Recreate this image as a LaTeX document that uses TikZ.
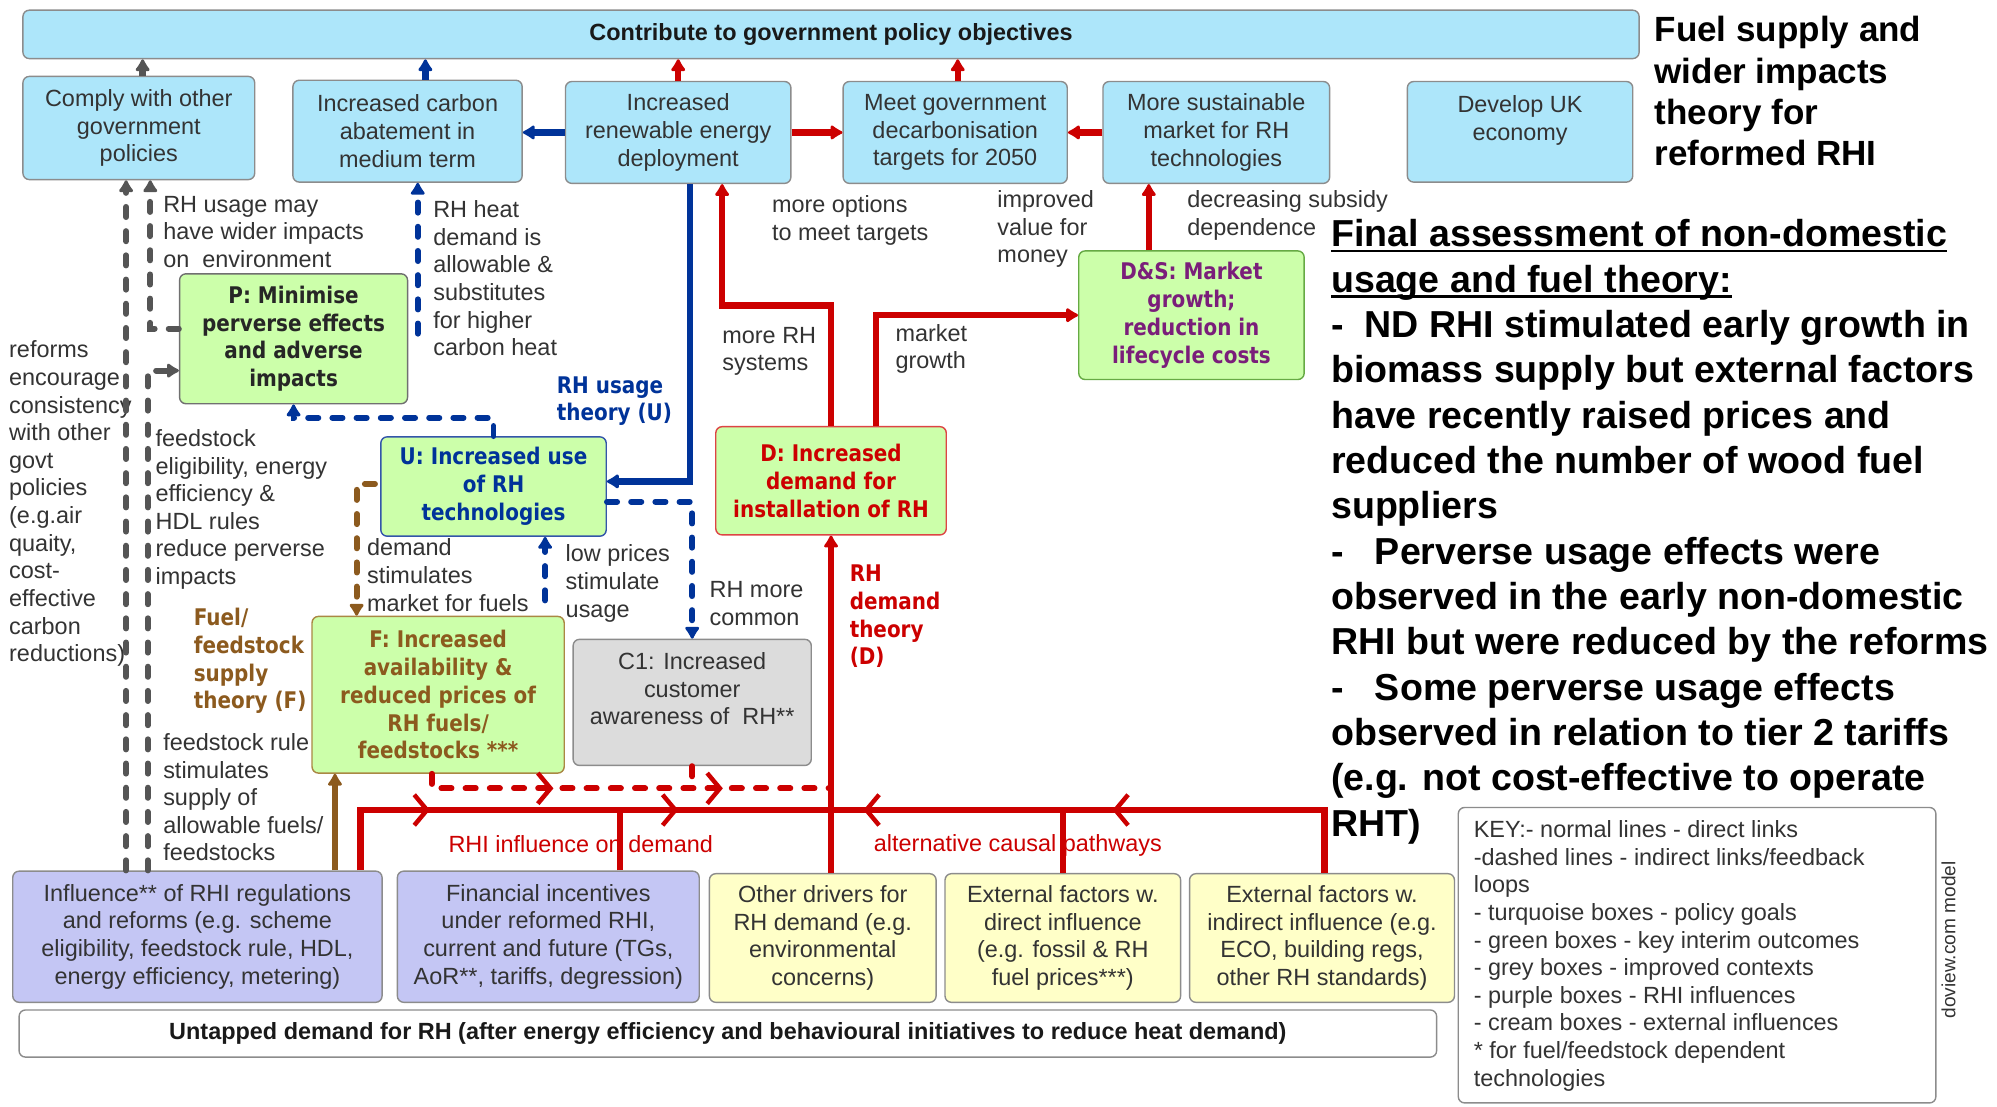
\documentclass[tikz,border=0pt]{standalone}
\usepackage{fontspec}
\setmainfont{Liberation Sans}
\newfontfamily\gbfont{DejaVu Sans}[FakeStretch=0.87]
\usetikzlibrary{arrows.meta,decorations.markings}

\definecolor{turq}{HTML}{ADE6FA}
\definecolor{lgreen}{HTML}{CCFFAA}
\definecolor{lgrey}{HTML}{DCDCDC}
\definecolor{lpurple}{HTML}{C4C6F4}
\definecolor{cream}{HTML}{FFFFC8}
\definecolor{dred}{HTML}{CC0000}
\definecolor{dblue}{HTML}{003399}
\definecolor{fbrown}{HTML}{8C5A1E}
\definecolor{cgrey}{HTML}{555555}
\definecolor{bordgrey}{HTML}{8C8C8C}
\definecolor{txtgrey}{HTML}{333333}
\definecolor{dspurple}{HTML}{7A1E7A}
\definecolor{pbord}{HTML}{707070}
\definecolor{ubord}{HTML}{3355AA}
\definecolor{dbord}{HTML}{DD4444}
\definecolor{fbord}{HTML}{AA8844}
\definecolor{dsbord}{HTML}{66AA44}

\newcommand\fnorm{\fontsize{18.4}{21.7}\selectfont}
\newcommand\fnormb{\bfseries\fontsize{18.4}{21.7}\selectfont}
\newcommand\fgreen{\gbfont\bfseries\fontsize{18}{21.8}\selectfont}
\newcommand\ftitle{\bfseries\fontsize{27.5}{32.3}\selectfont}
\newcommand\fbig{\bfseries\fontsize{29.5}{35.6}\selectfont}
\newcommand\ulbar[1]{\setbox0\hbox{#1}\rlap{\rule[-4.5pt]{\wd0}{2.2pt}}\box0}

% box from its two corners: style, name, x1, y1, x2, y2, text
\newcommand\rbox[7]{%
  \node[#1, minimum width={#5-#3}, minimum height={#6-#4}] (#2) at ({(#3+#5)/2},{(#4+#6)/2}) {#7};}

\tikzset{
  box/.style={draw=bordgrey, line width=1.1pt, rounded corners=5pt, inner sep=0pt,
    align=center, font=\fnorm, text=txtgrey},
  goal/.style={box, fill=turq},
  interim/.style={box, fill=lgreen, font=\fgreen},
  context/.style={box, fill=lgrey},
  rhi/.style={box, fill=lpurple},
  extf/.style={box, fill=cream},
  lbl/.style={inner sep=0pt, anchor=west, align=left, font=\fnorm, text=txtgrey},
  theory/.style={lbl, font=\fgreen},
  link/.style={line width=5pt},
  dlink/.style={line width=4.6pt, line cap=round, dash pattern=on 8pt off 11pt},
  >={Latex[length=11pt,width=14pt,line width=4.5pt,round]},
  blobtip/.style={->},
  chev/.style={postaction={decorate, decoration={markings,
    mark=at position #1 with {\arrow{Straight Barb[length=10pt,width=24pt,line width=3.5pt]}}}}},
}

\begin{document}
\begin{tikzpicture}[x=1pt,y=-1pt]
\fill[white] (0,0) rectangle (1568,869);
\useasboundingbox (0,0) rectangle (1568,869);

% ---------- free labels ----------
\node[lbl] (lreforms) at (7,395.5) {reforms\\encourage\\consistency\\with other\\govt\\policies\\(e.g.air\\quaity,\\cost-\\effective\\carbon\\reductions)};
\node[lbl] (lwider) at (128,182) {RH usage may\\have wider impacts\\on\ \ environment};
\node[lbl] (lheat) at (340,218.5) {RH heat\\demand is\\allowable \&\\substitutes\\for higher\\carbon heat};
\node[lbl] (lfeed) at (122,400) {feedstock\\eligibility, energy\\efficiency \&\\HDL rules\\reduce perverse\\impacts};
\node[theory, text=fbrown] (lfuel) at (152,519) {Fuel/\\feedstock\\supply\\theory (F) *};
\node[lbl] (lrule) at (128,626) {feedstock rule\\stimulates\\supply of\\allowable fuels/\\feedstocks};
\node[lbl] (lmarketf) at (288,451.5) {demand\\stimulates\\market for fuels};
\node[lbl] (lprices) at (444,458) {low prices\\stimulate\\usage};
\node[lbl] (lcommon) at (557,474) {RH more\\common};
\node[theory, text=dblue] (lutheory) at (437,315) {RH usage\\theory (U)};
\node[lbl] (loptions) at (606,173) {more options\\to meet targets};
\node[lbl] (lvalue) at (783,180) {improved\\value for\\money};
\node[lbl] (lsubsidy) at (932,169) {decreasing subsidy\\dependence};
\node[lbl] (lsystems) at (567,276) {more RH\\systems};
\node[lbl] (lgrowth) at (703,274) {market\\growth};
\node[theory, text=dred] (ldtheory) at (667,484) {RH\\demand\\theory\\(D)};
\node[lbl, text=dred] (linfl) at (352,663) {RHI influence on demand};
\node[lbl, text=dred] (lalt) at (686,664) {alternative causal pathways};

\node[lbl, font=\ftitle, text=black] (title) at (1299,71.5)
  {Fuel supply and\\wider impacts\\theory for\\reformed RHI};
\node[lbl, font=\fbig, text=black] (assess) at (1045,417.5)
  {\ulbar{Final assessment of non-domestic}\\
   \ulbar{usage and fuel theory:}\\
   -\ \ ND RHI stimulated early growth in\\
   biomass supply but external factors\\
   have recently raised prices and\\
   reduced the number of wood fuel\\
   suppliers\\
   -\ \ \ Perverse usage effects were\\
   observed in the early non-domestic\\
   RHI but were reduced by the reforms\\
   -\ \ \ Some perverse usage effects\\
   observed in relation to tier 2 tariffs\\
   (e.g. not cost-effective to operate\\
   RHT)};

% ---------- policy goals ----------
\rbox{goal, font=\fnormb, text=black!90}{top}{18}{8}{1287}{46}{Contribute to government policy objectives}
\rbox{goal}{comply}{18}{60}{200}{141}{Comply with other\\government\\policies}
\rbox{goal}{carbon}{230}{63}{410}{143}{Increased carbon\\abatement in\\medium term}
\rbox{goal}{renew}{444}{64}{621}{144}{Increased\\renewable energy\\deployment}
\rbox{goal}{meet}{662}{64}{838}{144}{Meet government\\decarbonisation\\targets for 2050}
\rbox{goal}{market}{866}{64}{1044}{144}{More sustainable\\market for RH\\technologies}
\rbox{goal}{econ}{1105}{64}{1282}{143}{Develop UK\\economy\\\mbox{}}

% ---------- interim outcomes ----------
\rbox{interim, draw=pbord, text=black!85}{P}{141}{215}{320}{317}{P: Minimise\\perverse effects\\and adverse\\impacts}
\rbox{interim, draw=ubord, text=dblue}{U}{299}{343}{476}{421}{U: Increased use\\of RH\\technologies}
\rbox{interim, draw=dbord, text=dred}{D}{562}{335}{743}{420}{D: Increased\\demand for\\installation of RH}
\rbox{interim, draw=fbord, text=fbrown}{F}{245}{484}{443}{607}{F: Increased\\availability \&\\reduced prices of\\RH fuels/\\feedstocks ***}
\rbox{interim, draw=dsbord, text=dspurple}{DS}{847}{197}{1024}{298}{D\&S: Market\\growth;\\reduction in\\lifecycle costs}
\rbox{context}{C1}{450}{502}{637}{601}{C1: Increased\\customer\\awareness of\ \ RH**\\\mbox{}}

% ---------- influences ----------
\rbox{rhi}{infl}{10}{684}{300}{787}{Influence** of RHI regulations\\and reforms (e.g. scheme\\eligibility, feedstock rule, HDL,\\energy efficiency, metering)}
\rbox{rhi}{fin}{312}{684}{549}{787}{Financial incentives\\under reformed RHI,\\current and future (TGs,\\AoR**, tariffs, degression)}
\rbox{extf}{other}{557}{686}{735}{787}{Other drivers for\\RH demand (e.g.\\environmental\\concerns)}
\rbox{extf}{extd}{742}{686}{927}{787}{External factors w.\\direct influence\\(e.g. fossil \& RH\\fuel prices***)}
\rbox{extf}{exti}{934}{686}{1142}{787}{External factors w.\\indirect influence (e.g.\\ECO, building regs,\\other RH standards)}
\rbox{box, fill=white, font=\fnormb, text=black!90}{untap}{15}{793}{1128}{830}{Untapped demand for RH (after energy efficiency and behavioural initiatives to reduce heat demand)}

% ---------- key ----------
\rbox{box, fill=white}{key}{1145}{634}{1520}{866}{}
\node[lbl] (keytext) at (1157,750.5) {KEY:- normal lines - direct links\\-dashed lines - indirect links/feedback\\loops\\- turquoise boxes - policy goals\\- green boxes - key interim outcomes\\- grey boxes - improved contexts\\- purple boxes - RHI influences\\- cream boxes - external influences\\* for fuel/feedstock dependent\\technologies};
\node[rotate=90, inner sep=0pt, font=\fontsize{15}{15}\selectfont, text=txtgrey] (doview) at (1530,738) {doview.com model};

% ---------- links to the top bar ----------
\draw[link, draw=cgrey, blobtip] ([xshift=3pt]comply.north) -- ([xshift=3pt]comply.north |- top.south);
\draw[link, draw=dblue, blobtip] ([xshift=14pt]carbon.north) -- ([xshift=14pt]carbon.north |- top.south);
\draw[link, draw=dred, blobtip] (renew.north) -- (renew.north |- top.south);
\draw[link, draw=dred, blobtip] ([xshift=2pt]meet.north) -- ([xshift=2pt]meet.north |- top.south);

% ---------- links between goals ----------
\draw[link, draw=dblue, blobtip] (renew.west) -- (renew.west -| carbon.east);
\draw[link, draw=dred, blobtip] (renew.east) -- (renew.east -| meet.west);
\draw[link, draw=dred, blobtip] (market.west) -- (market.west -| meet.east);

% ---------- usage theory (U) ----------
\draw[link, draw=dblue, blobtip] ([xshift=9.5pt]renew.south) |- ([yshift=4pt]U.east);
\coordinate (hdend) at (328,262);
\draw[dlink, draw=dblue, blobtip] (hdend) -- (hdend |- carbon.south);
\coordinate (ubend) at (230.5,328);
\draw[dlink, draw=dblue, blobtip] (U.north) |- (ubend) -- (P.south);
\draw[dlink, draw=dblue, blobtip] ([yshift=-12pt]U.east) -| (C1.north);
\draw[dlink, draw=dblue, blobtip, shorten <=12pt] ([xshift=84pt]F.north) -- ([xshift=84pt]F.north |- U.south);

% ---------- demand theory (D) ----------
\coordinate (sysbend) at (567,240);
\draw[link, draw=dred, blobtip] (D.north) |- (sysbend) -- (sysbend |- renew.south);
\draw[link, draw=dred, blobtip] ([xshift=35.5pt]D.north) |- (DS.west);
\draw[link, draw=dred, blobtip] ([xshift=-33.5pt]DS.north) -- ([xshift=-33.5pt]DS.north |- market.south);

% ---------- wider impacts (grey) ----------
\draw[dlink, draw=cgrey, blobtip] ([xshift=-56pt]infl.north) -- ([xshift=-56pt]infl.north |- comply.south);
\draw[dlink, draw=cgrey, blobtip] ([yshift=8pt]P.west) -| ([xshift=9pt]comply.south);
\draw[dlink, draw=cgrey, blobtip] ([xshift=-39pt]infl.north) |- ([yshift=-25pt]P.west);

% ---------- fuel supply theory (F) ----------
\draw[dlink, draw=fbrown, blobtip, shorten <=4pt] ([yshift=2pt]U.west) -| ([xshift=-64pt]F.north);
\draw[link, draw=fbrown, blobtip] ([xshift=108pt]infl.north) -- ([xshift=108pt]infl.north |- F.south);

% ---------- feedback into demand ----------
\coordinate (dashjoin) at (652.5,619);
\draw[dlink, draw=dred, chev=107pt, chev=240pt] ([xshift=-5pt]F.south) |- (dashjoin);
\draw[dlink, draw=dred] (C1.south) -- (C1.south |- dashjoin);

% ---------- RHI influence and alternative pathways ----------
\coordinate (busjoin) at (652.5,636);
\draw[link, draw=dred, blobtip] (D.south |- other.north) -- (D.south);
\draw[link, draw=dred, chev=102pt] ([xshift=128pt]infl.north) |- (busjoin);
\draw[link, draw=dred, chev=93pt] ([xshift=56.5pt]fin.north) |- (busjoin);
\draw[link, draw=dred, chev=206pt] (extd.north) |- (busjoin);
\draw[link, draw=dred, chev=216pt] ([xshift=2pt]exti.north) |- (busjoin);
\end{tikzpicture}
\end{document}
